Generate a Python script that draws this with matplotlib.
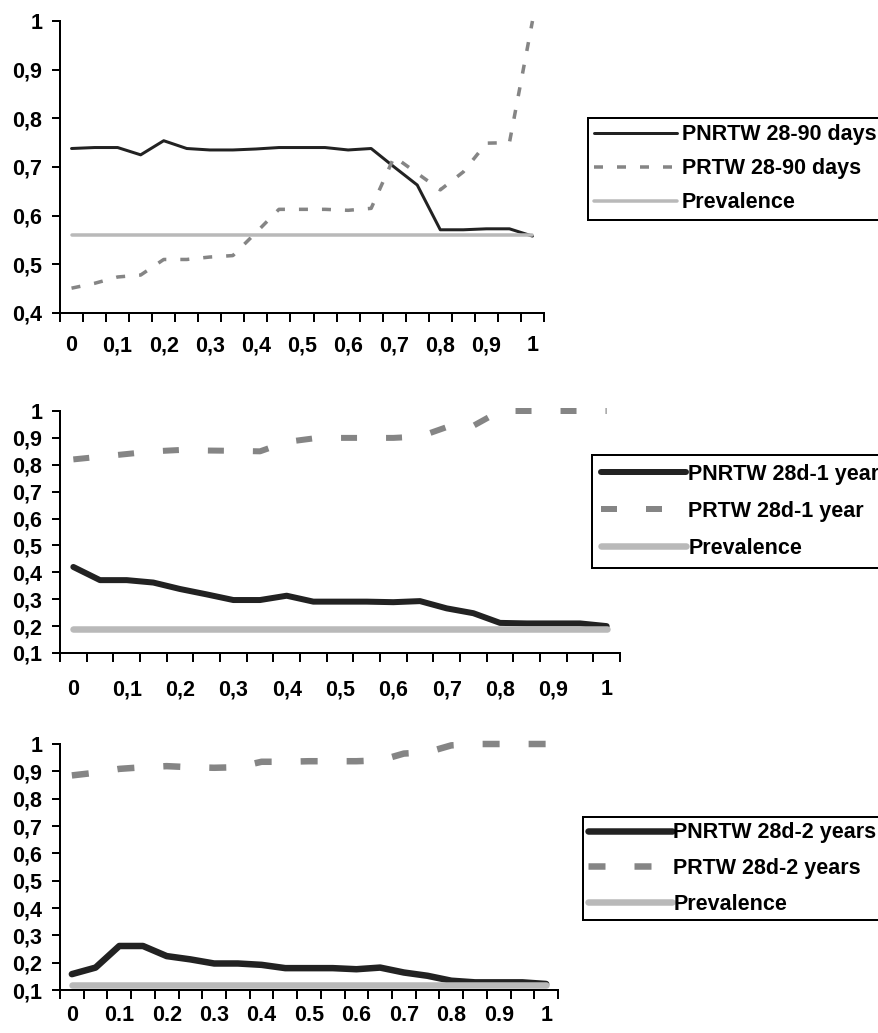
import matplotlib.pyplot as plt

plt.rcParams['font.family'] = ['Liberation Sans', 'DejaVu Sans']
plt.rcParams['font.weight'] = 'bold'
plt.rcParams['font.size'] = 15.5
plt.rcParams['lines.scale_dashes'] = False

# thresholds on the x axis (categories)
thresholds = [0, 0.05, 0.1, 0.15, 0.2, 0.25, 0.3, 0.35, 0.4, 0.45, 0.5,
              0.55, 0.6, 0.65, 0.7, 0.75, 0.8, 0.85, 0.9, 0.95, 1.0]
xlabels_comma = ['0', '0,1', '0,2', '0,3', '0,4', '0,5', '0,6', '0,7', '0,8', '0,9', '1']
xlabels_dot = ['0', '0.1', '0.2', '0.3', '0.4', '0.5', '0.6', '0.7', '0.8', '0.9', '1']

# panel 1: 28-90 days
pnrtw_90d = [0.738, 0.740, 0.740, 0.725, 0.754, 0.738, 0.735, 0.735, 0.737, 0.740, 0.740,
             0.740, 0.735, 0.738, 0.700, 0.663, 0.571, 0.571, 0.573, 0.573, 0.558]
prtw_90d = [0.451, 0.461, 0.474, 0.478, 0.510, 0.510, 0.515, 0.518, 0.565, 0.613, 0.613,
            0.613, 0.611, 0.615, 0.721, 0.687, 0.653, 0.690, 0.749, 0.750, 1.0]
prev_90d = 0.56

# panel 2: 28d-1 year
pnrtw_1y = [0.420, 0.371, 0.371, 0.362, 0.338, 0.318, 0.297, 0.297, 0.313, 0.291, 0.291,
            0.291, 0.289, 0.293, 0.266, 0.248, 0.212, 0.210, 0.210, 0.210, 0.200]
prtw_1y = [0.820, 0.830, 0.840, 0.850, 0.855, 0.853, 0.852, 0.850, 0.885, 0.898, 0.900,
           0.900, 0.900, 0.905, 0.940, 0.945, 1.0, 1.0, 1.0, 1.0, 1.0]
prev_1y = 0.19

# panel 3: 28d-2 years
pnrtw_2y = [0.158, 0.182, 0.261, 0.261, 0.224, 0.212, 0.197, 0.197, 0.192, 0.180, 0.180,
            0.180, 0.176, 0.182, 0.164, 0.152, 0.134, 0.128, 0.128, 0.128, 0.122]
prtw_2y = [0.885, 0.895, 0.909, 0.915, 0.919, 0.915, 0.913, 0.915, 0.935, 0.935, 0.937,
           0.937, 0.937, 0.940, 0.965, 0.970, 0.995, 1.0, 1.0, 1.0, 1.0]
prev_2y = 0.12

W, H = 879, 1033
fig = plt.figure(figsize=(W / 100, H / 100), dpi=100)
PT = 0.72  # points per pixel at 100 dpi


def px_axes(left, top, right, bottom):
    return fig.add_axes([left / W, 1 - bottom / H, (right - left) / W, (bottom - top) / H])


def comma(v):
    s = '%g' % round(v, 1)
    return s.replace('.', ',')


def draw_panel(ax, ymin, pnrtw, prtw, prev, names, xlabels, lw, dash, xpad, leg):
    half = (thresholds[1] - thresholds[0]) / 2
    ax.plot(thresholds, pnrtw, color='#222222', lw=lw[0] * PT, solid_capstyle='round',
            solid_joinstyle='round', clip_on=False, label=names[0])
    ax.plot(thresholds, prtw, color='#858585', lw=lw[1] * PT, dashes=dash,
            dash_capstyle='butt', clip_on=False, label=names[1])
    ax.plot(thresholds, [prev] * len(thresholds), color='#b9b9b9', lw=lw[2] * PT,
            solid_capstyle='round', clip_on=False, label=names[2])

    ax.set_xlim(thresholds[0] - half, thresholds[-1] + half)
    ax.set_ylim(ymin, 1.0)

    edges = [t - half for t in thresholds] + [thresholds[-1] + half]
    ax.set_xticks(edges)
    ax.set_xticklabels([])
    ax.set_xticks(thresholds[::2], minor=True)
    ax.set_xticklabels(xlabels, minor=True)
    ax.tick_params(axis='x', which='major', length=9 * PT, width=2 * PT, direction='out')
    ax.tick_params(axis='x', which='minor', length=0, pad=xpad)

    yt = [round(ymin + 0.1 * i, 1) for i in range(int(round((1 - ymin) / 0.1)) + 1)]
    ax.set_yticks(yt)
    ax.set_yticklabels([comma(v) for v in yt])
    ax.tick_params(axis='y', length=8 * PT, width=2 * PT, direction='out', pad=7)

    for s in ['top', 'right']:
        ax.spines[s].set_visible(False)
    for s in ['left', 'bottom']:
        ax.spines[s].set_linewidth(2 * PT)

    lg = ax.legend(loc='upper left', bbox_to_anchor=(leg['x'] / W, 1 - leg['y'] / H),
                   bbox_transform=fig.transFigure, frameon=True, fancybox=False,
                   edgecolor='black', framealpha=1, borderpad=leg['bp'], borderaxespad=0,
                   handlelength=leg['hl'], handletextpad=leg['htp'],
                   labelspacing=leg['ls'])
    lg.get_frame().set_linewidth(2 * PT)


ax1 = px_axes(60, 21, 544, 313)
draw_panel(ax1, 0.4, pnrtw_90d, prtw_90d, prev_90d,
           ['PNRTW 28-90 days', 'PRTW 28-90 days', 'Prevalence'], xlabels_comma,
           lw=(3, 3.5, 3.5), dash=(9 * PT, 14 * PT), xpad=16,
           leg=dict(x=588, y=118, bp=0.3, hl=3.85, htp=0.2, ls=0.6))

ax2 = px_axes(60, 411, 620, 653)
draw_panel(ax2, 0.1, pnrtw_1y, prtw_1y, prev_1y,
           ['PNRTW 28d-1 year', 'PRTW 28d-1 year', 'Prevalence'], xlabels_comma,
           lw=(6, 6, 6.5), dash=(16 * PT, 29 * PT), xpad=19,
           leg=dict(x=592, y=455, bp=0.4, hl=3.95, htp=0.12, ls=0.75))

ax3 = px_axes(60, 744, 558, 990)
draw_panel(ax3, 0.1, pnrtw_2y, prtw_2y, prev_2y,
           ['PNRTW 28d-2 years', 'PRTW 28d-2 years', 'Prevalence'], xlabels_dot,
           lw=(6.5, 6.5, 6.5), dash=(17 * PT, 29 * PT), xpad=11,
           leg=dict(x=583, y=817, bp=0.25, hl=3.9, htp=0.05, ls=0.68))

fig.savefig('out.png', dpi=100)
